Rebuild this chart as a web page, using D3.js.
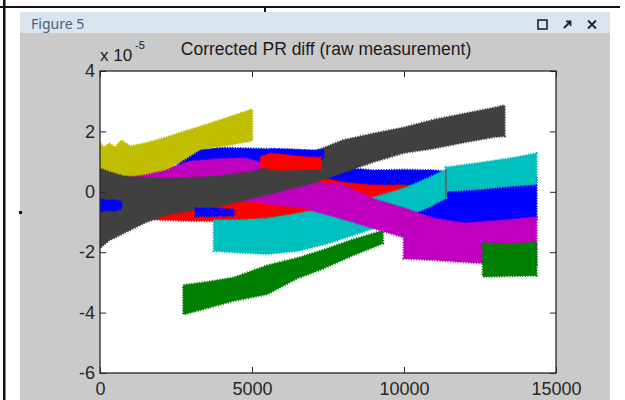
<!DOCTYPE html>
<html>
<head>
<meta charset="utf-8">
<script src="https://cdn.jsdelivr.net/npm/d3@7"></script>
<style>
body { margin: 0; background: #fff; }
svg { display: block; }
.tick text { font-family: "Liberation Sans", Arial, sans-serif; font-size: 18px; fill: #262626; }
.tick line { stroke: #262626; }
</style>
</head>
<body>
<div id="chart"></div>
<script>
// axis ticks
var xTicks = [0, 5000, 10000, 15000];
var yTicks = [-6, -4, -2, 0, 2, 4];

// every band: sample index, lower and upper envelope (units of 1e-5)
var blueX  = [0, 800, 1500, 2500, 2900, 4000, 5000, 6000, 7000, 7900, 9000, 10000, 11000, 12000, 13000, 14350];
var blueHi = [0.2, 0.4, 0.6, 0.8, 1.35, 1.45, 1.42, 1.4, 1.35, 0.8, 0.7, 0.72, 0.7, 0.6, 0.55, 0.5];
var blueLo = [-0.6, -0.7, -0.75, -0.75, -0.75, -0.75, -0.75, -0.75, -0.75, -0.75, -0.8, -0.9, -1.0, -1.1, -1.05, -0.9];

var greenX  = [2750, 3500, 4400, 5500, 6500, 7300, 8300, 9300];
var greenHi = [-3.1, -3.0, -2.85, -2.45, -2.2, -1.95, -1.6, -1.3];
var greenLo = [-4.05, -3.85, -3.6, -3.38, -2.85, -2.55, -2.1, -1.7];

var redX  = [1300, 2000, 3000, 4000, 5000, 6000, 7000, 8000, 9000, 10000, 10800];
var redHi = [0.2, 0.3, 0.4, 0.5, 0.6, 0.6, 0.5, 0.3, 0.2, 0.2, 0.1];
var redLo = [-0.85, -0.92, -0.95, -0.96, -0.95, -0.92, -0.88, -0.7, -0.45, -0.3, -0.3];

var cyanX  = [3750, 4500, 5500, 6500, 7500, 8550, 9000, 10000, 10800, 11380, 11380, 12500, 13500, 14350];
var cyanHi = [-0.95, -0.95, -0.9, -0.73, -0.55, -0.3, -0.2, 0.1, 0.45, 0.72, 0.8, 0.95, 1.1, 1.26];
var cyanLo = [-1.95, -2.0, -2.05, -1.95, -1.7, -1.35, -1.2, -0.85, -0.5, -0.2, 0.03, 0.1, 0.2, 0.26];

var magentaX  = [0, 1000, 2200, 3000, 4000, 4800, 5300, 5600, 6000, 6600, 7900, 9000, 10000, 10000, 11000, 12000, 13000, 14350];
var magentaHi = [0.5, 0.6, 0.76, 1.0, 1.08, 1.1, 0.95, 0.78, 0.6, 0.3, 0.26, -0.25, -0.55, -0.55, -0.9, -1.05, -0.98, -0.85];
var magentaLo = [0.0, 0.0, -0.05, -0.1, -0.2, -0.3, -0.35, -0.4, -0.45, -0.5, -0.86, -1.2, -1.5, -2.2, -2.25, -2.32, -2.38, -2.4];

var yellowX  = [0, 150, 300, 500, 700, 1000, 1500, 2200, 2800, 3300, 4200, 5000];
var yellowHi = [1.6, 1.45, 1.6, 1.45, 1.7, 1.5, 1.6, 1.8, 2.0, 2.15, 2.45, 2.72];
var yellowLo = [0.6, 0.6, 0.6, 0.55, 0.55, 0.53, 0.6, 0.76, 1.1, 1.42, 1.55, 1.7];

var grayX  = [0, 300, 800, 1500, 2200, 3000, 4000, 5000, 6000, 7000, 8000, 9000, 10000, 11000, 12000, 13000, 13300];
var grayHi = [0.76, 0.65, 0.5, 0.45, 0.42, 0.45, 0.52, 0.65, 0.95, 1.3, 1.7, 1.92, 2.12, 2.38, 2.58, 2.78, 2.85];
var grayLo = [-1.85, -1.6, -1.35, -1.0, -0.75, -0.6, -0.45, -0.2, 0.05, 0.3, 0.65, 1.0, 1.3, 1.45, 1.65, 1.83, 1.85];

var blueBlobX  = [0, 250, 500, 700];
var blueBlobHi = [-0.25, -0.3, -0.28, -0.35];
var blueBlobLo = [-0.65, -0.6, -0.62, -0.55];

var blueDashX  = [3150, 3700, 4400];
var blueDashHi = [-0.56, -0.55, -0.6];
var blueDashLo = [-0.8, -0.8, -0.78];

var blueStripX  = [5600, 6300, 7000, 7350];
var blueStripHi = [1.4, 1.38, 1.36, 1.38];
var blueStripLo = [1.1, 1.05, 1.05, 1.1];

var greenBlockX  = [12600, 13500, 14350];
var greenBlockHi = [-1.72, -1.75, -1.68];
var greenBlockLo = [-2.8, -2.78, -2.76];

var redPatchX  = [5300, 5600, 6000, 6600, 7250];
var redPatchHi = [1.15, 1.26, 1.22, 1.15, 1.12];
var redPatchLo = [0.85, 0.76, 0.72, 0.76, 0.78];

// jump in the cyan trace
var stepX = [11380];
var stepLo = [-0.2];
var stepHi = [0.76];

// draw order as in the figure (later covers earlier)
var traces = [
    { color: "#0000ff", x: blueX, lo: blueLo, hi: blueHi },
    { color: "#008000", x: greenX, lo: greenLo, hi: greenHi },
    { color: "#ff0000", x: redX, lo: redLo, hi: redHi },
    { color: "#00bfbf", x: cyanX, lo: cyanLo, hi: cyanHi },
    { color: "#bf00bf", x: magentaX, lo: magentaLo, hi: magentaHi },
    { color: "#bfbf00", x: yellowX, lo: yellowLo, hi: yellowHi },
    { color: "#404040", x: grayX, lo: grayLo, hi: grayHi },
    { color: "#0000ff", x: blueBlobX, lo: blueBlobLo, hi: blueBlobHi },
    { color: "#0000ff", x: blueDashX, lo: blueDashLo, hi: blueDashHi },
    { color: "#0000ff", x: blueStripX, lo: blueStripLo, hi: blueStripHi },
    { color: "#008000", x: greenBlockX, lo: greenBlockLo, hi: greenBlockHi },
    { color: "#ff0000", x: redPatchX, lo: redPatchLo, hi: redPatchHi }
];

var W = 625, H = 400;
var box = { left: 100, right: 556, top: 71, bottom: 373 };

var svg = d3.select("#chart").append("svg")
    .attr("width", W)
    .attr("height", H);

// screenshot frame around the figure window
svg.append("rect").attr("x", 0).attr("y", 0).attr("width", W).attr("height", H).attr("fill", "#fff");
svg.append("rect").attr("x", 20).attr("y", 12).attr("width", 590).attr("height", H - 12).attr("fill", "#cacaca");
svg.append("rect").attr("x", 20).attr("y", 12).attr("width", 590).attr("height", 21).attr("fill", "#d9e4ee");
svg.append("rect").attr("x", 0).attr("y", 6).attr("width", 620).attr("height", 2).attr("fill", "#111");
svg.append("rect").attr("x", 3).attr("y", 0).attr("width", 2.5).attr("height", H).attr("fill", "#111");
svg.append("rect").attr("x", 264).attr("y", 7).attr("width", 2).attr("height", 5).attr("fill", "#111");
svg.append("rect").attr("x", 19).attr("y", 211).attr("width", 3).attr("height", 3).attr("fill", "#111");

svg.append("text")
    .attr("x", 31).attr("y", 29)
    .attr("font-family", "Noto Sans, sans-serif")
    .attr("font-size", 14)
    .attr("fill", "#46637f")
    .text("Figure 5");

// window buttons
svg.append("rect").attr("x", 538).attr("y", 20).attr("width", 9).attr("height", 9)
    .attr("fill", "none").attr("stroke", "#222").attr("stroke-width", 1.6);
svg.append("path").attr("d", "M564,28 L570,22 M566,21.5 L570.5,21.5 L570.5,26")
    .attr("fill", "none").attr("stroke", "#222").attr("stroke-width", 1.8);
svg.append("path").attr("d", "M588,20.5 L596,28.5 M596,20.5 L588,28.5")
    .attr("fill", "none").attr("stroke", "#222").attr("stroke-width", 1.8);

var x = d3.scaleLinear().domain([0, 15000]).range([box.left, box.right]);
var y = d3.scaleLinear().domain([-6, 4]).range([box.bottom, box.top]);

svg.append("rect")
    .attr("x", box.left).attr("y", box.top)
    .attr("width", box.right - box.left).attr("height", box.bottom - box.top)
    .attr("fill", "#fff");

svg.append("clipPath").attr("id", "plot-clip")
    .append("rect")
    .attr("x", box.left).attr("y", box.top)
    .attr("width", box.right - box.left).attr("height", box.bottom - box.top);

var plot = svg.append("g").attr("clip-path", "url(#plot-clip)");

var band = d3.area()
    .x(function (d) { return x(d.x); })
    .y0(function (d) { return y(d.lo); })
    .y1(function (d) { return y(d.hi); });

traces.forEach(function (t) {
    var pts = t.x.map(function (v, i) { return { x: v, lo: t.lo[i], hi: t.hi[i] }; });
    plot.append("path")
        .datum(pts)
        .attr("d", band)
        .attr("fill", t.color)
        .attr("stroke", t.color)
        .attr("stroke-width", 1)
        .attr("stroke-linejoin", "round");
    // ragged edge, the raw signal is noisy
    plot.append("path")
        .datum(pts)
        .attr("d", band)
        .attr("fill", "none")
        .attr("stroke", t.color)
        .attr("stroke-width", 3)
        .attr("stroke-dasharray", "1 1.6");
});

plot.selectAll(".step")
    .data(stepX)
    .enter().append("line")
    .attr("class", "step")
    .attr("x1", function (d) { return x(d); })
    .attr("x2", function (d) { return x(d); })
    .attr("y1", function (d, i) { return y(stepLo[i]); })
    .attr("y2", function (d, i) { return y(stepHi[i]); })
    .attr("stroke", "#4d7676")
    .attr("stroke-width", 2);

// axes, ticks pointing inwards like matlab
var fmt = function (d) { return String(d); };

svg.append("g")
    .attr("transform", "translate(0," + box.bottom + ")")
    .call(d3.axisBottom(x).tickValues(xTicks).tickSize(-6).tickPadding(9).tickFormat(fmt))
    .call(function (g) { g.select(".domain").remove(); });

svg.append("g")
    .attr("transform", "translate(0," + box.top + ")")
    .call(d3.axisTop(x).tickValues(xTicks).tickSize(-6).tickFormat(""))
    .call(function (g) { g.select(".domain").remove(); });

svg.append("g")
    .attr("transform", "translate(" + box.left + ",0)")
    .call(d3.axisLeft(y).tickValues(yTicks).tickSize(-6).tickPadding(5).tickFormat(fmt))
    .call(function (g) { g.select(".domain").remove(); });

svg.append("g")
    .attr("transform", "translate(" + box.right + ",0)")
    .call(d3.axisRight(y).tickValues(yTicks).tickSize(-6).tickFormat(""))
    .call(function (g) { g.select(".domain").remove(); });

svg.append("rect")
    .attr("x", box.left).attr("y", box.top)
    .attr("width", box.right - box.left).attr("height", box.bottom - box.top)
    .attr("fill", "none")
    .attr("stroke", "#262626")
    .attr("stroke-width", 1.3);

svg.selectAll(".tick text").attr("font-family", null).attr("font-size", null);

// title and exponent
svg.append("text")
    .attr("x", 326).attr("y", 55)
    .attr("text-anchor", "middle")
    .attr("font-family", "Liberation Sans, Arial, sans-serif")
    .attr("font-size", 17.5)
    .attr("fill", "#1a1a1a")
    .text("Corrected PR diff (raw measurement)");

svg.append("text")
    .attr("x", 100).attr("y", 61)
    .attr("font-family", "Liberation Sans, Arial, sans-serif")
    .attr("font-size", 17)
    .attr("fill", "#1a1a1a")
    .text("x 10");

svg.append("text")
    .attr("x", 135).attr("y", 49)
    .attr("font-family", "Liberation Sans, Arial, sans-serif")
    .attr("font-size", 11)
    .attr("fill", "#1a1a1a")
    .text("-5");
</script>
</body>
</html>
